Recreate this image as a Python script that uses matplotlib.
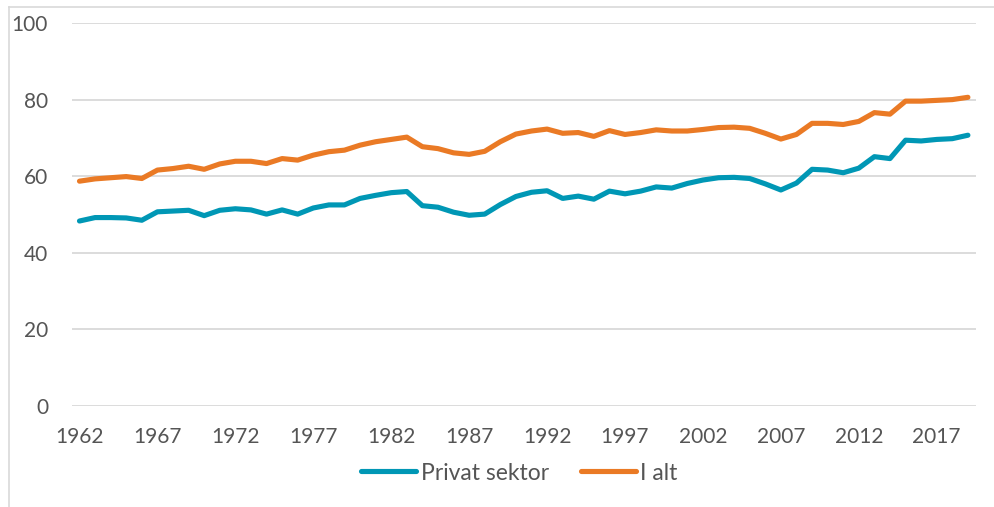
import matplotlib
matplotlib.use("Agg")
import matplotlib.pyplot as plt
from matplotlib.lines import Line2D

years = list(range(1962, 2020))

privat_sektor = [
    48.3, 49.2, 49.2, 49.1, 48.5, 50.7, 50.9, 51.1, 49.7, 51.1,
    51.5, 51.2, 50.1, 51.2, 50.1, 51.7, 52.5, 52.5, 54.2, 55.0,
    55.7, 56.0, 52.3, 51.9, 50.6, 49.8, 50.1, 52.6, 54.7, 55.8,
    56.2, 54.2, 54.8, 54.0, 56.1, 55.4, 56.1, 57.2, 56.9, 58.1,
    59.0, 59.6, 59.7, 59.4, 58.0, 56.4, 58.2, 61.8, 61.6, 60.9,
    62.1, 65.1, 64.6, 69.4, 69.2, 69.6, 69.8, 70.7,
]
i_alt = [
    58.7, 59.3, 59.6, 59.9, 59.4, 61.6, 62.0, 62.6, 61.8, 63.2,
    63.9, 63.9, 63.3, 64.6, 64.2, 65.5, 66.4, 66.8, 68.1, 69.0,
    69.6, 70.2, 67.7, 67.2, 66.1, 65.7, 66.5, 69.0, 71.0, 71.8,
    72.3, 71.2, 71.4, 70.4, 71.9, 70.9, 71.4, 72.1, 71.8, 71.8,
    72.2, 72.7, 72.8, 72.5, 71.2, 69.7, 70.9, 73.8, 73.8, 73.5,
    74.3, 76.6, 76.2, 79.6, 79.6, 79.8, 80.0, 80.6,
]
series_names = ["Privat sektor", "I alt"]
series_colors = ["#0097b5", "#ea7a25"]
y_ticks = [0, 20, 40, 60, 80, 100]
x_tick_years = list(range(1962, 2020, 5))

plt.rcParams['font.family'] = ['Lato', 'DejaVu Sans']

fig = plt.figure(figsize=(9.95, 5.07), dpi=100)
ax = fig.add_axes([71.7 / 995, 1 - 406 / 507, (975.7 - 71.7) / 995, (406 - 23) / 507])

xs = list(range(len(years)))
for vals, name, col in zip([privat_sektor, i_alt], series_names, series_colors):
    ax.plot(xs, vals, color=col, lw=3.7, solid_capstyle='round',
            solid_joinstyle='round', label=name, zorder=3)

ax.set_xlim(-0.5, len(years) - 0.5)
ax.set_ylim(0, 100)
ax.set_yticks(y_ticks)
ax.set_yticklabels([str(v) for v in y_ticks])
ax.set_xticks([years.index(y) for y in x_tick_years])
ax.set_xticklabels([str(y) for y in x_tick_years])
ax.grid(axis='y', color='#d9d9d9', lw=1.3, zorder=0)
ax.tick_params(axis='both', length=0, labelsize=15, labelcolor='#555555')
ax.tick_params(axis='y', pad=17)
ax.tick_params(axis='x', pad=15)
for s in ax.spines.values():
    s.set_visible(False)

fig.legend(loc='center', bbox_to_anchor=(0.522, 1 - 473 / 507), ncol=2,
           frameon=False, fontsize=16.5, labelcolor='#555555',
           handlelength=2.4, handletextpad=0.2, columnspacing=1.4)

# chart area border (top and left visible)
fig.add_artist(Line2D([9 / 995, 9 / 995], [0, 1 - 7 / 507], color='#d9d9d9', lw=1.2,
                      transform=fig.transFigure))
fig.add_artist(Line2D([9 / 995, 1], [1 - 7 / 507, 1 - 7 / 507], color='#d9d9d9', lw=1.2,
                      transform=fig.transFigure))

fig.savefig("out.png", dpi=100)
